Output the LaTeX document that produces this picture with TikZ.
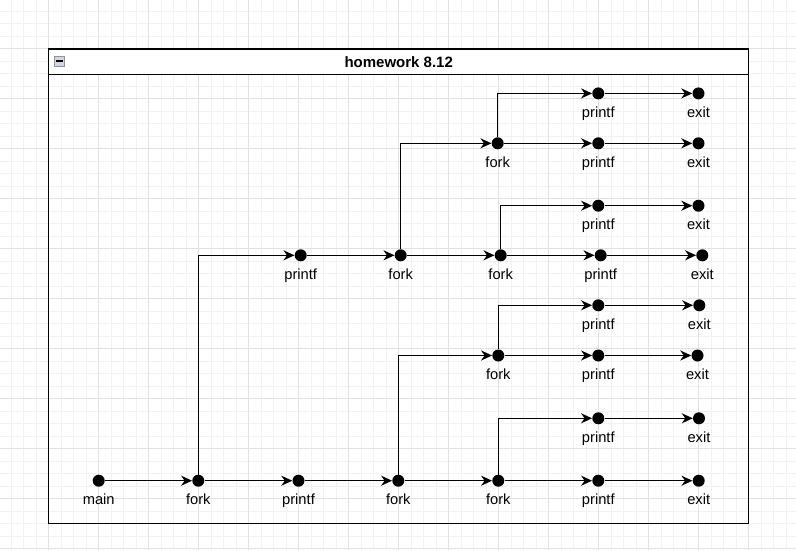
\documentclass[tikz,border=0pt]{standalone}
\usepackage{fontspec}
\setmainfont{Liberation Sans}
\usetikzlibrary{arrows.meta}
\definecolor{gridminor}{HTML}{F2F2F2}
\definecolor{gridmajor}{HTML}{E2E2E2}
\definecolor{iconfill}{HTML}{D3D6DD}
\definecolor{iconline}{HTML}{8E939C}

\begin{document}
\begin{tikzpicture}[x=1pt, y=-1pt,
        dot/.style={circle, fill=black, inner sep=0pt, minimum size=12pt},
        lbl/.style={font=\fontsize{14.7}{17}\selectfont, inner sep=0pt, text height=11pt},
        every label/.style={lbl}, label distance=6.5pt,
        flow/.style={line width=1.5pt, -{Stealth[length=11pt, width=10pt, inset=3.5pt]}}]
        \useasboundingbox (0,0) rectangle (796,550);
        % background grid
        \foreach \i in {0,...,63} \draw [gridminor, line width=0.7pt] ({11.2+12.5*\i},0) -- ++(0,550);
        \foreach \i in {0,...,43} \draw [gridminor, line width=0.7pt] (0,{11.2+12.5*\i}) -- ++(796,0);
        \foreach \i in {0,...,16} \draw [gridmajor, line width=0.7pt] ({-1.3+50*\i},0) -- ++(0,550);
        \foreach \i in {0,...,11} \draw [gridmajor, line width=0.7pt] (0,{-1.3+50*\i}) -- ++(796,0);
        % container
        \draw [line width=1.4pt] (48.7,49) rectangle (748.7,523.7);
        \draw [line width=1.4pt, fill=white] (48.7,49) rectangle (748.7,74.3);
        \node [font=\bfseries\fontsize{15}{18}\selectfont] (title) at (398.7,62) {homework 8.12};
        \node [draw=iconline, fill=iconfill, line width=0.8pt, inner sep=0pt, minimum size=10pt] (collapse) at (59.5,61) {};
        \draw [line width=1.6pt] ([xshift=2pt]collapse.west) -- ([xshift=-2pt]collapse.east);
        % bottom row
        \node [dot, label=below:main] (main) at (98.7,480.7) {};
        \node [dot, label=below:fork] (fork1) at (198.3,480.7) {};
        \node [dot, label=below:printf] (printf1) at (298.5,480.7) {};
        \node [dot, label=below:fork] (fork2) at (398.3,480.7) {};
        \node [dot, label=below:fork] (fork3) at (498.3,480.7) {};
        \node [dot, label=below:printf] (printf2) at (598.3,480.7) {};
        \node [dot, label=below:exit] (exit1) at (698.7,480.7) {};
        \node [dot, label=below:printf] (printf3) at (598.3,418.3) {};
        \node [dot, label=below:exit] (exit2) at (699,418.3) {};
        \node [dot, label=below:fork] (fork4) at (498.3,355.5) {};
        \node [dot, label=below:printf] (printf4) at (598.3,355.5) {};
        \node [dot, label=below:exit] (exit3) at (697.5,355.5) {};
        \node [dot, label=below:printf] (printf5) at (598.3,305.3) {};
        \node [dot, label=below:exit] (exit4) at (699.3,305.3) {};
        % upper half
        \node [dot, label=below:printf] (printf6) at (300.7,255.3) {};
        \node [dot, label=below:fork] (fork5) at (400.7,255.3) {};
        \node [dot, label=below:fork] (fork6) at (500.7,255.3) {};
        \node [dot, label=below:printf] (printf7) at (600.7,255.3) {};
        \node [dot, label=below:exit] (exit5) at (702.3,255.3) {};
        \node [dot, label=below:printf] (printf8) at (598.3,205.7) {};
        \node [dot, label=below:exit] (exit6) at (698.5,205.7) {};
        \node [dot, label=below:fork] (fork7) at (497.7,143.3) {};
        \node [dot, label=below:printf] (printf9) at (598.3,143.3) {};
        \node [dot, label=below:exit] (exit7) at (698.5,143.3) {};
        \node [dot, label=below:printf] (printf10) at (598.3,93.4) {};
        \node [dot, label=below:exit] (exit8) at (698.5,93.4) {};
        % connectors
        \foreach \a/\b in {main/fork1, fork1/printf1, printf1/fork2, fork2/fork3, fork3/printf2, printf2/exit1,
                printf3/exit2, fork4/printf4, printf4/exit3, printf5/exit4,
                printf6/fork5, fork5/fork6, fork6/printf7, printf7/exit5,
                printf8/exit6, fork7/printf9, printf9/exit7, printf10/exit8}
            \draw [flow] (\a) -- (\b);
        \foreach \a/\b in {fork1/printf6, fork2/fork4, fork3/printf3, fork4/printf5,
                fork5/fork7, fork6/printf8, fork7/printf10}
            \draw [flow] (\a) |- (\b);
    \end{tikzpicture}
\end{document}
